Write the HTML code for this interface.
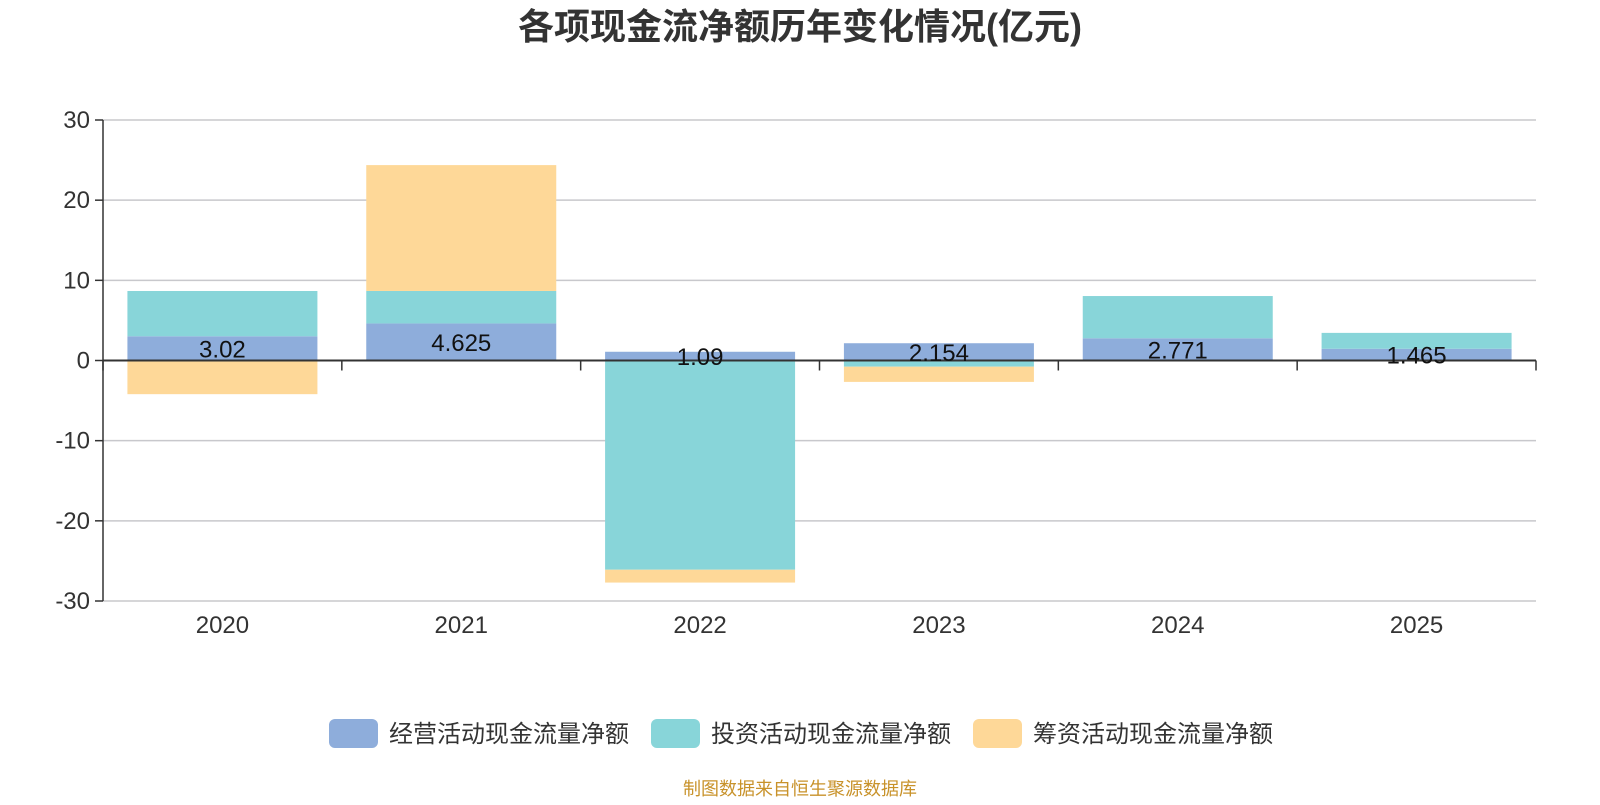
<!DOCTYPE html>
<html><head><meta charset="utf-8"><style>
body{margin:0;background:#fff;width:1600px;height:800px;overflow:hidden}
svg{font-family:"Liberation Sans","Noto Sans CJK SC",sans-serif}
</style></head><body>
<svg id="c" width="1600" height="800">
<text x="800" y="39" text-anchor="middle" font-size="36" font-weight="bold" fill="#333">各项现金流净额历年变化情况(亿元)</text>
<g id="grid"></g><g id="bars"></g><g id="axes"></g><g id="labels"></g>
<g>
<rect x="329" y="719" width="49" height="29" rx="6" fill="#8eaddb"/>
<text x="389" y="742" font-size="24" fill="#333">经营活动现金流量净额</text>
<rect x="651" y="719" width="49" height="29" rx="6" fill="#88d5d9"/>
<text x="711" y="742" font-size="24" fill="#333">投资活动现金流量净额</text>
<rect x="973" y="719" width="49" height="29" rx="6" fill="#fed898"/>
<text x="1033" y="742" font-size="24" fill="#333">筹资活动现金流量净额</text>
</g>
<text x="800" y="795" text-anchor="middle" font-size="18" fill="#c8922a">制图数据来自恒生聚源数据库</text>
</svg>
<script>
const categories=["2020","2021","2022","2023","2024","2025"];
const operating=[3.02,4.625,1.09,2.154,2.771,1.465];
const investing=[5.65,4.05,-26.1,-0.77,5.27,1.98];
const financing=[-4.2,15.7,-1.6,-1.9,0,0];
const opLabels=["3.02","4.625","1.09","2.154","2.771","1.465"];
const yTicks=[30,20,10,0,-10,-20,-30];
const NS="http://www.w3.org/2000/svg";
const L=103,R=1536,yTop=120,yBot=601,vMax=30,vMin=-30,BW=190;
const y=v=>yTop+(vMax-v)/(vMax-vMin)*(yBot-yTop);
const bw=(R-L)/categories.length;
const x=i=>L+bw*i;
function mk(t,a,p){const e=document.createElementNS(NS,t);for(const k in a)e.setAttribute(k,a[k]);document.getElementById(p).appendChild(e);return e;}
yTicks.forEach(t=>{
 const g=mk('line',{x1:L,x2:R,y1:y(t),y2:y(t),stroke:'#c8c8cc','stroke-width':1.5},'grid');
 
 
 mk('line',{x1:L-8,x2:L,y1:y(t),y2:y(t),stroke:'#333','stroke-width':1.5},'axes');
 const tx=mk('text',{x:L-13,y:y(t)+8,'text-anchor':'end','font-size':24,fill:'#333'},'axes');
 tx.textContent=t;
 
 
});
mk('line',{x1:L,x2:L,y1:yTop,y2:yBot,stroke:'#333','stroke-width':1.5},'axes');
mk('line',{x1:L,x2:R,y1:y(0),y2:y(0),stroke:'#333','stroke-width':2},'axes');
for(let i=0;i<=categories.length;i++)mk('line',{x1:x(i),x2:x(i),y1:y(0),y2:y(0)+10,stroke:'#333','stroke-width':1.5},'axes');
const series=[[operating,'#8eaddb','operating'],[investing,'#88d5d9','investing'],[financing,'#fed898','financing']];
categories.forEach((c,i)=>{
 let pos=0,neg=0;const bx=x(i)+(bw-BW)/2;
 series.forEach(([arr,col,nm])=>{
  const v=arr[i];if(!v)return;let a,b;
  if(v>0){a=pos;b=pos+v;pos=b;}else{a=neg;b=neg+v;neg=b;}
  const r=mk('rect',{x:bx,width:BW,y:Math.min(y(a),y(b)),height:Math.abs(y(a)-y(b)),fill:col},'bars');
  
  
 });
 const lt=mk('text',{x:x(i)+bw/2,y:(y(0)+y(operating[i]))/2+9,'text-anchor':'middle','font-size':24,fill:'#111'},'labels');
 lt.textContent=opLabels[i];
 
 
 const xt=mk('text',{x:x(i)+bw/2,y:633,'text-anchor':'middle','font-size':24,fill:'#333'},'axes');
 xt.textContent=c;
 
 
});
</script>
</body></html>
